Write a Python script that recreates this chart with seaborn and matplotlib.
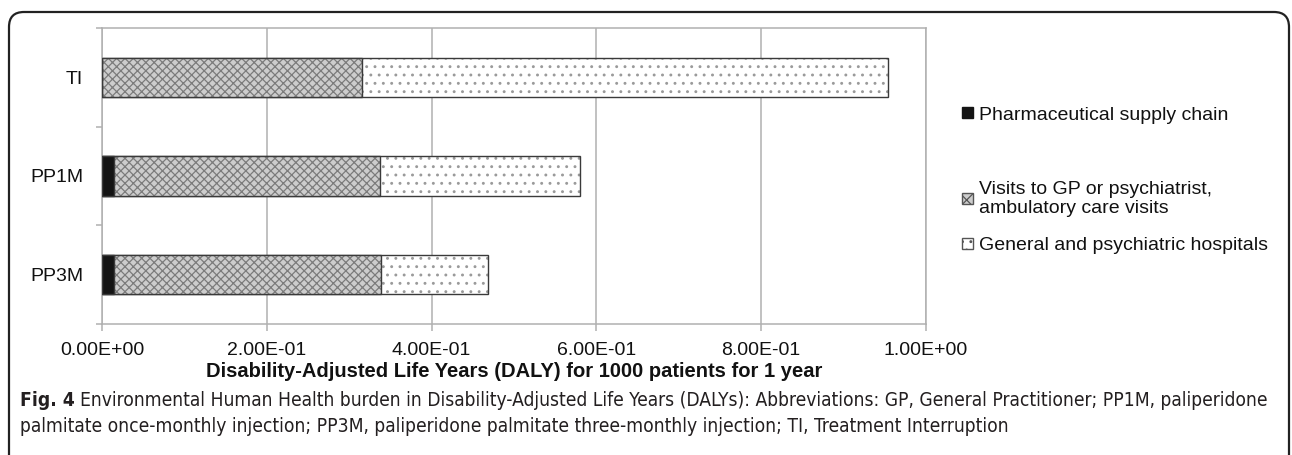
import matplotlib
matplotlib.use('Agg')
import matplotlib.pyplot as plt
import matplotlib.colors as mcolors
import pandas as pd
import seaborn as sns
from matplotlib.patches import Patch, FancyBboxPatch
from matplotlib.ticker import FuncFormatter, FixedLocator

# values (DALY per 1000 patients per year)
categories = ['TI', 'PP1M', 'PP3M']
pharma = [0.0, 0.015, 0.015]
visits = [0.315, 0.322, 0.324]
hospitals = [0.639, 0.243, 0.129]
series = ['Pharmaceutical supply chain',
          'Visits to GP or psychiatrist,\nambulatory care visits',
          'General and psychiatric hospitals']
x_ticks = [0.0, 0.2, 0.4, 0.6, 0.8, 1.0]

xlabel = 'Disability-Adjusted Life Years (DALY) for 1000 patients for 1 year'
caption_bold = 'Fig. 4'
caption_1 = ('Environmental Human Health burden in Disability-Adjusted Life Years (DALYs): '
             'Abbreviations: GP, General Practitioner; PP1M, paliperidone')
caption_2 = ('palmitate once-monthly injection; PP3M, paliperidone palmitate three-monthly '
             'injection; TI, Treatment Interruption')

sns.set_theme(style='white')
plt.rcParams['font.family'] = ['Liberation Sans', 'DejaVu Sans']
plt.rcParams['hatch.linewidth'] = 0.9

df = pd.DataFrame({'cat': categories, 'pharma': pharma,
                   'visits': visits, 'hosp': hospitals})
df['mid'] = df['pharma'] + df['visits']
df['total'] = df['mid'] + df['hosp']

grey = '#b0b0b0'
edge = '#3a3a3a'


def set_hatch_colour(p, c):
    if hasattr(p, 'set_hatchcolor'):
        p.set_hatchcolor(c)
    else:
        p._hatch_color = mcolors.to_rgba(c)


fig = plt.figure(figsize=(12.92, 4.55), dpi=100)
ax = fig.add_axes([102 / 1292, 1 - 324 / 455, 824 / 1292, 296 / 455])

# stacked bars drawn as cumulative layers, longest first
layers = [('total', '#ffffff', '..', '#9a9a9a'),
          ('mid', '#cdcdcd', 'xxxx', '#7c7c7c'),
          ('pharma', '#141414', None, None)]
for col, face, hatch, hcol in layers:
    n0 = len(ax.patches)
    sns.barplot(data=df, x=col, y='cat', color=face, saturation=1,
                width=0.4, edgecolor=edge, linewidth=1.0, ax=ax, zorder=3)
    for p in ax.patches[n0:]:
        p.set_facecolor(face)
        if hatch:
            p.set_hatch(hatch)
            set_hatch_colour(p, hcol)

ax.set_xlim(0, 1.0)
ax.set_ylim(2.5, -0.5)
ax.xaxis.set_major_locator(FixedLocator(x_ticks))
ax.xaxis.set_major_formatter(FuncFormatter(lambda v, _: f'{v:.2E}'))
ax.grid(axis='x', color=grey, linewidth=1.1, zorder=0)
ax.set_axisbelow(True)
ax.set_ylabel('')
ax.set_xlabel(xlabel, fontsize=14.5, fontweight='bold', color='#111111', labelpad=2)

ax.tick_params(axis='x', which='major', direction='out', length=5, width=1.1,
               color=grey, labelsize=14, labelcolor='#111111', pad=8, bottom=True)
ax.tick_params(axis='y', which='major', length=0, labelsize=14,
               labelcolor='#111111', pad=13.5)
ax.yaxis.set_minor_locator(FixedLocator([-0.5, 0.5, 1.5, 2.5]))
ax.tick_params(axis='y', which='minor', direction='out', length=4.5, width=1.1,
               color=grey, left=True)
for s in ax.spines.values():
    s.set_color(grey)
    s.set_linewidth(1.1)
    s.set_visible(True)

# legend
handles = [
    Patch(facecolor='#141414', edgecolor='#141414', label=series[0]),
    Patch(facecolor='#cdcdcd', edgecolor='#555555', hatch='xx', label=series[1]),
    Patch(facecolor='#ffffff', edgecolor='#555555', hatch='..', label=series[2]),
]
common = dict(frameon=False, fontsize=14, handlelength=0.55, handleheight=0.55,
              handletextpad=0.3, borderpad=0, borderaxespad=0, labelcolor='#111111')
leg1 = fig.legend(handles=handles[:1], loc='center left',
                  bbox_to_anchor=(962 / 1292, 1 - 115 / 455), **common)
leg2 = fig.legend(handles=handles[1:], loc='upper left', labelspacing=1.05,
                  bbox_to_anchor=(962 / 1292, 1 - 181 / 455), **common)
for t in leg2.get_texts():
    t.set_linespacing(1.15)

# caption (narrow face, sized so the first line spans the panel width)
cap_size = 14.5
cap_kw = dict(color='#231f20', va='center', family='DejaVu Sans', fontstretch='condensed')
fb = fig.text(20 / 1292, 1 - 401 / 455, caption_bold, fontweight='bold',
              fontsize=cap_size, **cap_kw)
f1 = fig.text(0, 1 - 401 / 455, caption_1, fontsize=cap_size, **cap_kw)
f2 = fig.text(20 / 1292, 1 - 427 / 455, caption_2, fontsize=cap_size, **cap_kw)
for _ in range(3):
    fig.canvas.draw()
    r = fig.canvas.get_renderer()
    b0 = fb.get_window_extent(r)
    b1 = f1.get_window_extent(r)
    total = b1.width + (b0.x1 - b0.x0) + 5
    cap_size *= (1272 - 20) / total
    for t in (fb, f1, f2):
        t.set_fontsize(cap_size)
    fig.canvas.draw()
    b0 = fb.get_window_extent(r)
    f1.set_x((b0.x1 + 5) / 1292)

# rounded frame round the figure panel
frame = FancyBboxPatch((0.09, -0.5), 12.80, 4.93,
                       boxstyle='round,pad=0,rounding_size=0.15',
                       transform=fig.dpi_scale_trans, fill=False,
                       edgecolor='#222222', linewidth=1.6)
fig.patches.append(frame)

fig.savefig('out.png', dpi=100)
